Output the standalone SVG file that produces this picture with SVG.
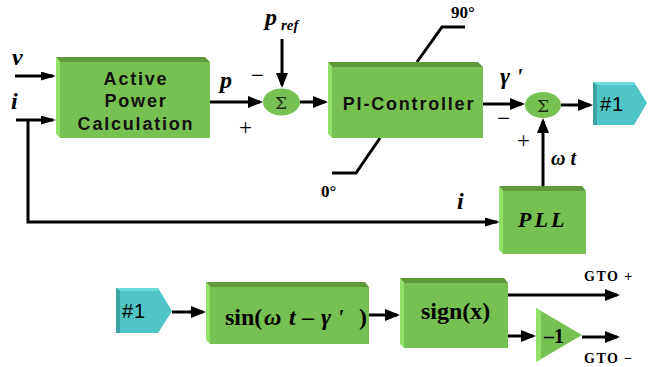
<svg xmlns="http://www.w3.org/2000/svg" width="649" height="367" viewBox="0 0 649 367">
<style>
.face{fill:#76c151}
.top{fill:#5e9a3c}
.left{fill:#92e26a}
.tface{fill:#50c4c6}
.ttop{fill:#6cdcde}
.tleft{fill:#3aa3a6}
.ln{fill:none;stroke:#000;stroke-width:3}
.lnS{fill:none;stroke:#000;stroke-width:3;marker-end:url(#aS)}
.lnL{fill:none;stroke:#000;stroke-width:3;marker-end:url(#aL)}
.bx{font-family:"Liberation Sans",Arial,sans-serif;font-weight:bold;font-size:18px;letter-spacing:1.8px;text-anchor:middle;fill:#111}
.var{font-family:"Liberation Serif","Times New Roman",serif;font-weight:bold;font-style:italic;fill:#000}
.srf{font-family:"Liberation Serif","Times New Roman",serif;font-weight:bold;fill:#000}
.sgn{font-family:"Liberation Serif","Times New Roman",serif;font-size:23px;fill:#000}
.sig{font-family:"DejaVu Serif","Liberation Serif",serif;font-size:17px;text-anchor:middle;fill:#1a2a10}
.tag{font-family:"Liberation Sans",Arial,sans-serif;font-size:20px;fill:#000;letter-spacing:1px}
</style>
<defs>
<marker id="aS" markerUnits="userSpaceOnUse" markerWidth="16" markerHeight="10" refX="12" refY="4.5" orient="auto"><path d="M0,0 L15,4.5 L0,9 z" fill="#000"/></marker>
<marker id="aL" markerUnits="userSpaceOnUse" markerWidth="16" markerHeight="14" refX="12" refY="6" orient="auto"><path d="M0,0 L15,6 L0,12 z" fill="#000"/></marker>
</defs>

<g id="connectors">
<path class="lnS" d="M15,76 H53"/>
<path class="lnS" d="M16,120 H53"/>
<path class="lnS" d="M28,120 V222 H497"/>
<path class="lnL" d="M210,102 H260"/>
<path class="lnL" d="M282,39 V85"/>
<path class="lnL" d="M300,102 H325"/>
<path class="lnL" d="M483,104 H522"/>
<path class="lnL" d="M561,105 H590"/>
<path class="lnL" d="M543,186 V121"/>
<path class="ln" d="M417,62 L442,27 H465"/>
<path class="ln" d="M380,138 L356,173 H332"/>
<path class="lnL" d="M172,312 H203"/>
<path class="lnL" d="M369,315 H397"/>
<path class="lnL" d="M508,295 H617"/>
<path class="lnL" d="M508,336 H533"/>
<path class="lnL" d="M582,337 H617"/>
</g>

<g id="labels">
<text class="var" x="12" y="65" font-size="24">v</text>
<text class="var" x="11" y="109" font-size="24">i</text>
<text class="var" x="220" y="88" font-size="24">p</text>
<text class="var" x="265" y="25" font-size="24">p</text>
<text class="var" x="281" y="30" font-size="15">ref</text>
<text class="sgn" x="251" y="83">−</text>
<text class="sgn" x="239" y="135">+</text>
<text class="srf" x="451" y="18" font-size="17">90°</text>
<text class="srf" x="321" y="197" font-size="17">0°</text>
<text class="var" x="500" y="84" font-size="24" font-weight="normal">γ '</text>
<text class="sgn" x="497" y="126">−</text>
<text class="sgn" x="517" y="148">+</text>
<text class="var" x="551" y="165" font-size="20">ω t</text>
<text class="var" x="457" y="209" font-size="24">i</text>
<text class="srf" x="584" y="281" font-size="14" letter-spacing="1.5">GTO +</text>
<text class="srf" x="584" y="363" font-size="14" letter-spacing="1.5">GTO −</text>
</g>

<g id="active-power">
<polygon class="top" points="56,57 205,57 210,62 60,62"/>
<polygon class="left" points="56,57 60,62 60,138 56,134"/>
<rect class="face" x="60" y="62" width="150" height="76"/>
<text class="bx" x="136" y="85">Active</text>
<text class="bx" x="136" y="107">Power</text>
<text class="bx" x="136" y="130">Calculation</text>
</g>

<g id="sum1">
<ellipse class="face" cx="281.5" cy="102" rx="18.5" ry="13.5"/>
<text class="sig" x="281" y="109">Σ</text>
</g>

<g id="pi-controller">
<polygon class="top" points="328,62 478,62 483,67 332,67"/>
<polygon class="left" points="328,62 332,67 332,138 328,134"/>
<rect class="face" x="332" y="67" width="151" height="71"/>
<text class="bx" x="409" y="110" letter-spacing="2">PI-Controller</text>
</g>

<g id="sum2">
<ellipse class="face" cx="543" cy="105" rx="18" ry="13"/>
<text class="sig" x="543" y="112">Σ</text>
</g>

<g id="tag1-top">
<polygon class="tface" points="593,82 634,82 647,103 634,125 593,125"/>
<polygon class="ttop" points="593,82 634,82 636,85 597,85"/>
<polygon class="tleft" points="593,82 597,85 597,125 593,125"/>
<text class="tag" x="600" y="111">#1</text>
</g>

<g id="pll">
<polygon class="top" points="499,186 582,186 586,191 503,191"/>
<polygon class="left" points="499,186 503,191 503,254 499,250"/>
<rect class="face" x="503" y="191" width="83" height="63"/>
<text class="var" x="518" y="227" font-size="22" letter-spacing="3">PLL</text>
</g>

<g id="tag1-bottom">
<polygon class="tface" points="116,288 158,288 172,311 158,333 116,333"/>
<polygon class="ttop" points="116,288 158,288 160,291 120,291"/>
<polygon class="tleft" points="116,288 120,291 120,333 116,333"/>
<text class="tag" x="122" y="318">#1</text>
</g>

<g id="sin">
<polygon class="top" points="206,282 365,282 369,287 210,287"/>
<polygon class="left" points="206,282 210,287 210,344 206,340"/>
<rect class="face" x="210" y="287" width="159" height="57"/>
<text class="srf" y="325" font-size="24"><tspan x="225">sin(</tspan><tspan x="264" font-style="italic">ω</tspan><tspan x="289" font-style="italic">t</tspan><tspan x="302">–</tspan><tspan x="321" font-style="italic">γ</tspan><tspan x="337" font-style="italic">'</tspan><tspan x="359">)</tspan></text>
</g>

<g id="sign">
<polygon class="top" points="400,278 504,278 508,283 404,283"/>
<polygon class="left" points="400,278 404,283 404,348 400,344"/>
<rect class="face" x="404" y="283" width="104" height="65"/>
<text class="srf" x="421" y="319" font-size="24">sign(x)</text>
</g>

<g id="gain">
<polygon class="face" points="536,308 582,335 536,362"/>
<polygon class="left" points="536,308 541,311 541,359 536,362"/>
<text class="srf" x="544" y="343" font-size="20">–1</text>
</g>
</svg>
